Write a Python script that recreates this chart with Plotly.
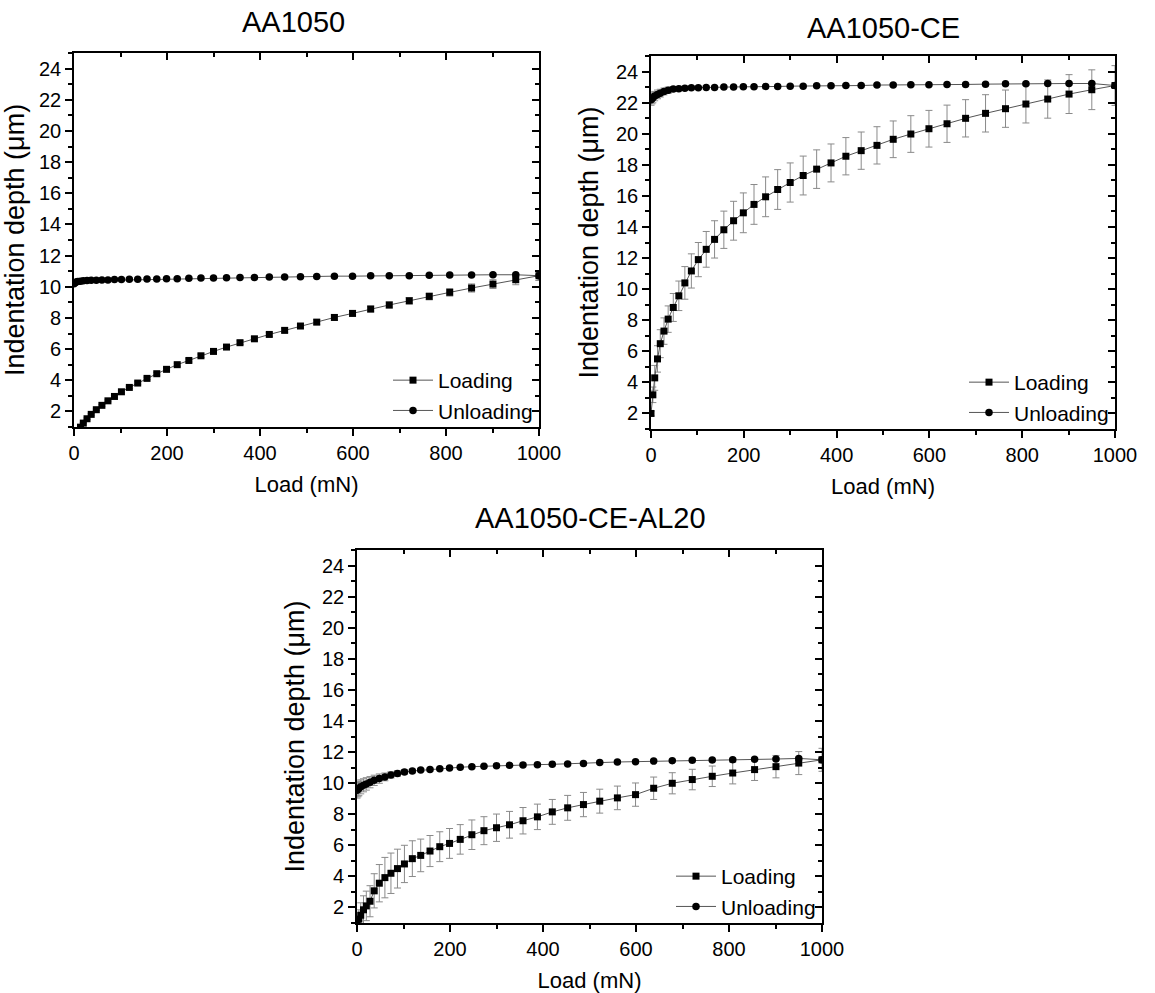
import plotly.graph_objects as go

# ---------------- data ----------------
titles = ["AA1050", "AA1050-CE", "AA1050-CE-AL20"]

x_load = [0, 4, 8, 14, 20, 28, 37, 48, 60, 73, 87, 102, 119, 137, 157, 178, 199, 222, 247, 273,
          300, 328, 357, 388, 420, 453, 487, 522, 560, 599, 638, 678, 721, 764, 808, 855, 901, 950, 1000]
x_load_p1 = [14, 20, 28, 37, 48, 60, 73, 87, 102, 119, 137, 157, 178, 199, 222, 247, 273,
             300, 328, 357, 388, 420, 453, 487, 522, 560, 599, 638, 678, 721, 764, 808, 855, 901, 950, 1000]
x_unload = [1000, 950, 901, 855, 808, 764, 721, 678, 638, 599, 560, 522, 487, 453, 420, 388, 357, 328, 300,
            273, 247, 222, 199, 178, 157, 137, 119, 102, 87, 73, 60, 48, 37, 28, 20, 14, 8, 4, 2, 0]

# AA1050
p1_load = [0.99, 1.25, 1.53, 1.81, 2.11, 2.39, 2.68, 2.96, 3.26, 3.54, 3.82, 4.12, 4.42, 4.70, 5.00, 5.27,
           5.57, 5.85, 6.13, 6.41, 6.66, 6.94, 7.20, 7.48, 7.73, 8.03, 8.29, 8.57, 8.83, 9.10, 9.38, 9.64,
           9.92, 10.17, 10.45, 10.71]
p1_load_err = [0.04, 0.04, 0.05, 0.05, 0.05, 0.06, 0.06, 0.06, 0.07, 0.07, 0.08, 0.08, 0.09, 0.09, 0.1, 0.1,
               0.11, 0.11, 0.12, 0.12, 0.13, 0.13, 0.14, 0.15, 0.16, 0.17, 0.18, 0.19, 0.2, 0.21, 0.22, 0.24,
               0.26, 0.28, 0.32, 0.3]
p1_unload = [10.71, 10.77, 10.77, 10.75, 10.75, 10.73, 10.71, 10.70, 10.70, 10.68, 10.68, 10.66, 10.64, 10.62,
             10.62, 10.60, 10.60, 10.58, 10.56, 10.56, 10.54, 10.52, 10.52, 10.50, 10.50, 10.48, 10.48, 10.46,
             10.46, 10.44, 10.44, 10.42, 10.42, 10.40, 10.38, 10.36, 10.33, 10.30, 10.25, 10.20]
p1_unload_err = [0.3] + [0.05] * 34 + [0.06, 0.07, 0.08, 0.09, 0.1]

# AA1050-CE
p2_load = [2.0, 3.2, 4.29, 5.51, 6.49, 7.3, 8.07, 8.82, 9.57, 10.4, 11.17, 11.9, 12.56, 13.2, 13.82, 14.4,
           14.91, 15.45, 15.94, 16.41, 16.86, 17.31, 17.72, 18.12, 18.55, 18.91, 19.25, 19.64, 19.98, 20.32,
           20.64, 20.99, 21.31, 21.61, 21.91, 22.23, 22.55, 22.83, 23.1]
p2_load_err = [0.15, 0.5, 0.8, 0.85, 0.9, 0.85, 0.85, 0.9, 0.95, 1.05, 1.1, 1.1, 1.15, 1.2, 1.2, 1.25,
               1.28, 1.28, 1.28, 1.28, 1.26, 1.25, 1.24, 1.22, 1.2, 1.2, 1.2, 1.18, 1.18, 1.18, 1.2, 1.2,
               1.2, 1.2, 1.22, 1.23, 1.25, 1.28, 1.28]
p2_unload = [23.1, 23.23, 23.23, 23.23, 23.21, 23.21, 23.19, 23.17, 23.17, 23.15, 23.15, 23.13, 23.13, 23.1,
             23.1, 23.08, 23.08, 23.06, 23.06, 23.04, 23.04, 23.02, 23.02, 23.0, 23.0, 22.98, 22.98, 22.96,
             22.96, 22.93, 22.9, 22.87, 22.8, 22.72, 22.61, 22.53, 22.42, 22.31, 22.25, 22.18]
p2_unload_err = [0.05] * 27 + [0.08, 0.1, 0.12, 0.14, 0.16, 0.2, 0.22, 0.25, 0.28, 0.3, 0.32, 0.33, 0.35]

# AA1050-CE-AL20
p3_load = [1.04, 1.25, 1.5, 1.85, 2.1, 2.4, 3.07, 3.56, 3.92, 4.2, 4.5, 4.8, 5.14, 5.35, 5.63, 5.91, 6.12,
           6.38, 6.68, 6.94, 7.13, 7.32, 7.58, 7.83, 8.15, 8.41, 8.62, 8.84, 9.05, 9.26, 9.67, 9.99, 10.23,
           10.44, 10.65, 10.87, 11.06, 11.29, 11.5]
p3_load_err = [0.3, 0.6, 0.8, 0.9, 0.95, 1.0, 1.1, 1.2, 1.3, 1.3, 1.25, 1.2, 1.15, 1.05, 1.0, 0.96, 0.96,
               0.95, 0.95, 0.9, 0.88, 0.86, 0.85, 0.82, 0.8, 0.8, 0.78, 0.77, 0.76, 0.75, 0.72, 0.68, 0.66,
               0.66, 0.7, 0.7, 0.72, 0.74, 0.74]
p3_unload = [11.5, 11.59, 11.55, 11.53, 11.51, 11.49, 11.47, 11.44, 11.42, 11.38, 11.36, 11.32, 11.27, 11.23,
             11.21, 11.19, 11.17, 11.15, 11.12, 11.08, 11.06, 11.02, 10.97, 10.93, 10.87, 10.85, 10.78, 10.72,
             10.62, 10.53, 10.4, 10.29, 10.18, 10.06, 9.95, 9.86, 9.76, 9.66, 9.6, 9.54]
p3_unload_err = [0.05] * 24 + [0.08, 0.1, 0.12, 0.15, 0.18, 0.2, 0.25, 0.3, 0.33, 0.36, 0.4, 0.42, 0.45, 0.47,
                               0.48, 0.5]

x_tickvals = [0, 200, 400, 600, 800, 1000]
y_tickvals = [2, 4, 6, 8, 10, 12, 14, 16, 18, 20, 22, 24]

# ---------------- layout geometry (paper fractions) ----------------
W, H = 1155, 993
boxes = [  # left, right, top, bottom in px
    (74, 539, 53, 427),
    (651, 1115, 56, 429),
    (357, 822, 550, 923),
]
title_pos = [(293, 22), (883, 28), (590, 518)]

FONT = "Liberation Sans, Arial, Helvetica, sans-serif"
LINE_C = "#555555"
ERR_C = "#8a8a8a"

panels = [
    (x_load_p1, p1_load, p1_load_err, x_unload, p1_unload, p1_unload_err),
    (x_load, p2_load, p2_load_err, x_unload, p2_unload, p2_unload_err),
    (x_load, p3_load, p3_load_err, x_unload, p3_unload, p3_unload_err),
]

fig = go.Figure()
layout = dict(
    width=W, height=H,
    margin=dict(l=0, r=0, t=0, b=0, autoexpand=False),
    paper_bgcolor="white", plot_bgcolor="white",
    font=dict(family=FONT, color="black", size=20),
    annotations=[],
)

for i, (xl, yl, el, xu, yu, eu) in enumerate(panels):
    n = i + 1
    sfx = "" if n == 1 else str(n)
    leg = "legend" if n == 1 else f"legend{n}"
    fig.add_trace(go.Scatter(
        x=xl, y=yl, mode="lines+markers", name="Loading",
        line=dict(color=LINE_C, width=1),
        marker=dict(symbol="square", size=7, color="black"),
        error_y=dict(type="data", array=el, visible=True, color=ERR_C, thickness=1, width=3.5),
        xaxis=f"x{sfx}", yaxis=f"y{sfx}", legend=leg,
    ))
    fig.add_trace(go.Scatter(
        x=xu, y=yu, mode="lines+markers", name="Unloading",
        line=dict(color=LINE_C, width=1),
        marker=dict(symbol="circle", size=7.5, color="black"),
        error_y=dict(type="data", array=eu, visible=True, color=ERR_C, thickness=1, width=3.5),
        xaxis=f"x{sfx}", yaxis=f"y{sfx}", legend=leg,
    ))
    # dummy traces for mirror axes
    fig.add_trace(go.Scatter(x=[], y=[], xaxis=f"x{n+3}", yaxis=f"y{sfx}", showlegend=False, hoverinfo="skip"))
    fig.add_trace(go.Scatter(x=[], y=[], xaxis=f"x{sfx}", yaxis=f"y{n+3}", showlegend=False, hoverinfo="skip"))

    l, r, t, b = boxes[i]
    xd = [l / W, r / W]
    yd = [1 - b / H, 1 - t / H]
    common = dict(showline=True, linecolor="black", linewidth=1.6, showgrid=False, zeroline=False,
                  tickcolor="black", tickwidth=1.5, automargin=False)
    layout[f"xaxis{sfx}"] = dict(
        domain=xd, range=[0, 1000], anchor=f"y{sfx}", tickvals=x_tickvals,
        ticks="outside", ticklen=7, tickfont=dict(size=20),
        minor=dict(dtick=100, tick0=0, ticks="outside", ticklen=4, tickcolor="black", tickwidth=1.5),
        title=dict(text="Load (mN)", font=dict(size=22), standoff=14),
        **common)
    layout[f"yaxis{sfx}"] = dict(
        domain=yd, range=[1, 25], anchor=f"x{sfx}", tickvals=y_tickvals,
        ticks="outside", ticklen=7, tickfont=dict(size=20),
        minor=dict(dtick=1, tick0=0, ticks="outside", ticklen=4, tickcolor="black", tickwidth=1.5),
        title=dict(text="Indentation depth (μm)", font=dict(size=27), standoff=10),
        **common)
    layout[f"xaxis{n+3}"] = dict(
        overlaying=f"x{sfx}", side="top", range=[0, 1000], anchor=f"y{sfx}", tickvals=x_tickvals,
        ticks="inside", ticklen=7, showticklabels=False,
        minor=dict(dtick=100, tick0=0, ticks="inside", ticklen=4, tickcolor="black", tickwidth=1.5),
        **common)
    layout[f"yaxis{n+3}"] = dict(
        overlaying=f"y{sfx}", side="right", range=[1, 25], anchor=f"x{sfx}", tickvals=y_tickvals,
        ticks="inside", ticklen=7, showticklabels=False,
        minor=dict(dtick=1, tick0=0, ticks="inside", ticklen=4, tickcolor="black", tickwidth=1.5),
        **common)

    layout[leg] = dict(
        x=(r - 1) / W, xanchor="right", y=1 - (b + 4) / H, yanchor="bottom",
        bgcolor="rgba(0,0,0,0)", borderwidth=0, font=dict(size=21, family=FONT),
        tracegroupgap=0, itemwidth=40,
    )
    tx, ty = title_pos[i]
    layout["annotations"].append(dict(
        text=titles[i], x=tx / W, y=1 - ty / H, xref="paper", yref="paper",
        xanchor="center", yanchor="middle", showarrow=False, font=dict(size=29, family=FONT),
    ))

fig.update_layout(**layout)
fig.write_html("out.html")
